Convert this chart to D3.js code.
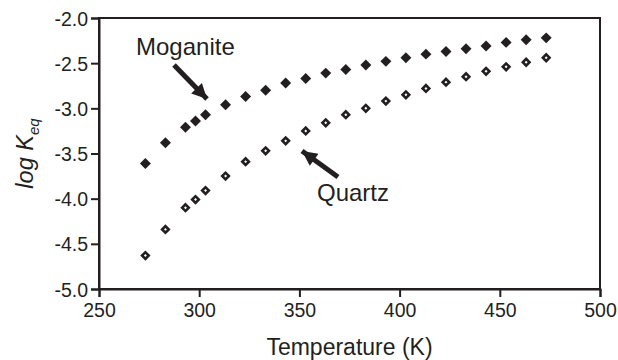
<!DOCTYPE html>
<html>
<head>
<meta charset="utf-8">
<script src="https://cdn.jsdelivr.net/npm/d3@7"></script>
<style>
  html, body { margin: 0; padding: 0; background: #fff; }
  svg { display: block; font-family: "Liberation Sans", Arial, sans-serif; }
</style>
</head>
<body>
<svg id="chart" width="618" height="360"></svg>
<script>
// Temperatures in kelvin (0–200 °C)
const temperatures = [273.15, 283.15, 293.15, 298.15, 303.15, 313.15, 323.15, 333.15, 343.15, 353.15,
  363.15, 373.15, 383.15, 393.15, 403.15, 413.15, 423.15, 433.15, 443.15, 453.15, 463.15, 473.15];
// log K_eq for silica dissolution
const moganite = [-3.61, -3.38, -3.21, -3.14, -3.07, -2.96, -2.87, -2.80, -2.72, -2.67,
  -2.61, -2.57, -2.52, -2.48, -2.44, -2.40, -2.37, -2.34, -2.31, -2.27, -2.24, -2.22];
const quartz = [-4.63, -4.34, -4.10, -4.01, -3.91, -3.75, -3.59, -3.47, -3.36, -3.25,
  -3.16, -3.07, -3.00, -2.92, -2.85, -2.78, -2.71, -2.65, -2.59, -2.54, -2.49, -2.44];
const xTicks = [250, 300, 350, 400, 450, 500];
const yTicks = [-2.0, -2.5, -3.0, -3.5, -4.0, -4.5, -5.0];

const ink = "#231f20";
const svg = d3.select("#chart");
const plot = { left: 99, right: 600, top: 18, bottom: 289 };

const x = d3.scaleLinear().domain([250, 500]).range([plot.left, plot.right]);
const y = d3.scaleLinear().domain([-5.0, -2.0]).range([plot.bottom, plot.top]);

// frame
svg.append("rect")
  .attr("x", plot.left).attr("y", plot.top)
  .attr("width", plot.right - plot.left).attr("height", plot.bottom - plot.top)
  .attr("fill", "none").attr("stroke", ink).attr("stroke-width", 2);

// axes (plain hyphen for negative labels)
const fmtY = d => d.toFixed(1);
const xAxis = svg.append("g")
  .attr("transform", `translate(0,${plot.bottom})`)
  .call(d3.axisBottom(x).tickValues(xTicks).tickFormat(d3.format("d")).tickSize(8).tickPadding(6));
const yAxis = svg.append("g")
  .attr("transform", `translate(${plot.left},0)`)
  .call(d3.axisLeft(y).tickValues(yTicks).tickFormat(fmtY).tickSize(8).tickPadding(3));

[xAxis, yAxis].forEach(g => {
  g.select(".domain").attr("stroke", ink).attr("stroke-width", 2);
  g.selectAll(".tick line").attr("stroke", ink).attr("stroke-width", 2);
  g.selectAll(".tick text").attr("fill", ink).style("font-size", "19.5px")
    .style("font-family", '"Liberation Sans", Arial, sans-serif');
});
yAxis.selectAll(".tick text").attr("dy", "0.36em");

// axis titles
svg.append("text")
  .attr("x", (plot.left + plot.right) / 2).attr("y", 355)
  .attr("text-anchor", "middle")
  .attr("fill", ink).style("font-size", "23px")
  .text("Temperature (K)");

const yt = svg.append("text")
  .attr("transform", `translate(33,${(plot.top + plot.bottom) / 2}) rotate(-90)`)
  .attr("text-anchor", "middle")
  .attr("fill", ink).style("font-size", "23.5px").style("font-style", "italic");
yt.append("tspan").text("log K");
yt.append("tspan").attr("dy", 6).style("font-size", "15px").text("eq");

// data markers
const diamond = d3.symbol().type(d3.symbolSquare);

svg.append("g").selectAll("path")
  .data(temperatures.map((t, i) => [t, moganite[i]]))
  .join("path")
  .attr("d", diamond.size(60)())
  .attr("transform", d => `translate(${x(d[0])},${y(d[1])}) rotate(45)`)
  .attr("fill", ink);

svg.append("g").selectAll("path")
  .data(temperatures.map((t, i) => [t, quartz[i]]))
  .join("path")
  .attr("d", diamond.size(22)())
  .attr("transform", d => `translate(${x(d[0])},${y(d[1])}) rotate(45)`)
  .attr("fill", "#fff").attr("stroke", ink).attr("stroke-width", 2.6);

// annotations
svg.append("defs").append("marker")
  .attr("id", "head").attr("viewBox", "0 0 10 10")
  .attr("refX", 10).attr("refY", 5)
  .attr("markerWidth", 3.4).attr("markerHeight", 3)
  .attr("markerUnits", "strokeWidth")
  .attr("orient", "auto")
  .append("path").attr("d", "M0,0 L10,5 L0,10 Z").attr("fill", ink);

function arrow(x1, y1, x2, y2) {
  svg.append("line")
    .attr("x1", x1).attr("y1", y1).attr("x2", x2).attr("y2", y2)
    .attr("stroke", ink).attr("stroke-width", 5)
    .attr("marker-end", "url(#head)");
}
arrow(174, 65, 207, 99);
arrow(338, 177, 302, 151);

svg.append("text").attr("x", 136).attr("y", 55)
  .attr("fill", ink).style("font-size", "24px").text("Moganite");
svg.append("text").attr("x", 317).attr("y", 201)
  .attr("fill", ink).style("font-size", "24px").text("Quartz");
</script>
</body>
</html>
